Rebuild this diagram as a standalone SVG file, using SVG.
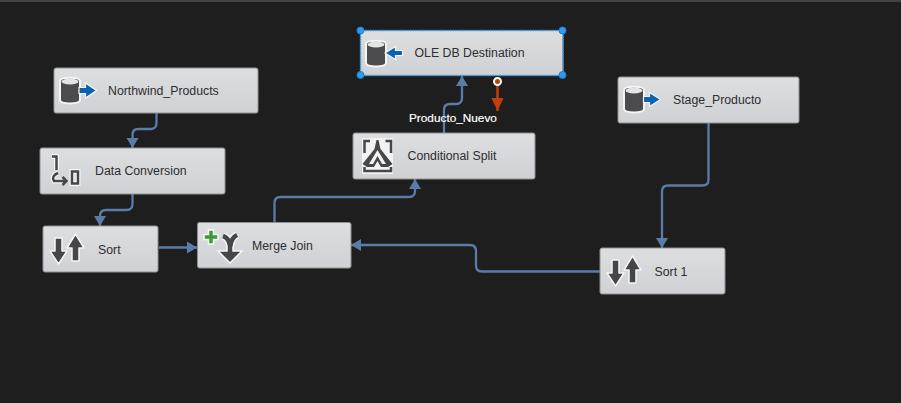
<svg xmlns="http://www.w3.org/2000/svg" width="901" height="403" viewBox="0 0 901 403">
<defs>
<linearGradient id="nodeFill" x1="0" y1="0" x2="0" y2="1"><stop offset="0" stop-color="#dddee0"/><stop offset="1" stop-color="#d0d1d4"/></linearGradient>
<marker id="arrow" markerUnits="userSpaceOnUse" markerWidth="13" markerHeight="13" refX="10" refY="6.500" orient="auto"><path d="M0 0.500L10 6.500L0 12.500Z" fill="#5b7ca8"/></marker>
<marker id="arrowRed" markerUnits="userSpaceOnUse" markerWidth="14" markerHeight="13" refX="13" refY="6.500" orient="auto"><path d="M0 0.500L13 6.500L0 12.500Z" fill="#c13f0b"/></marker>
<g id="dbBody"><path d="M-10 -9.500C-10 -14 10 -14 10 -9.500V9.500C10 14 -10 14 -10 9.500Z" fill="#4b4b4d" stroke="#f4f4f4" stroke-width="2"/><ellipse cx="0" cy="-9" rx="8.500" ry="3" fill="#e4e4e4"/></g>
<g id="sortIcon" fill="#464648" stroke="#f5f5f5" stroke-width="1.500" stroke-linejoin="round"><path d="M12 12H19V25H24L15.500 38L7 25H12Z"/><path d="M29 35H36V22H41L32.500 8L24 22H29Z"/></g>
</defs>
<style>
.node{fill:url(#nodeFill);stroke:#8f9092;stroke-width:1}
.lbl{font-family:"Liberation Sans",Arial,sans-serif;font-size:12.300px;fill:#2e2e30}
.wire{fill:none;stroke:#5b7ca8;stroke-width:2.300;marker-end:url(#arrow)}
.handle{fill:#2f9bf0;stroke:#1e7fd0;stroke-width:1}
.halo{fill:none;stroke:#f6f6f6;stroke-width:5}
.ink{fill:none;stroke:#47474a;stroke-width:2.500}
.blue{fill:#0b62b0;stroke:#f4f4f4;stroke-width:1.200}
</style>
<rect width="901" height="403" fill="#1e1e1e"/>
<rect width="901" height="2" fill="#3f4246"/>
<g id="connectors">
<path class="wire" d="M156.500 113V123Q156.500 129 150.500 129H138Q132.500 129 132.500 135V148"/>
<path class="wire" d="M132.500 194V204Q132.500 210 126.500 210H106Q100 210 100 216V226"/>
<path class="wire" d="M159 247.500H197"/>
<path class="wire" d="M274.500 222V203Q274.500 197 280.500 197H409Q415 197 415 191V179"/>
<path class="wire" d="M444 133V110Q444 104 450 104H456Q462 104 462 98V76"/>
<path class="wire" d="M708.500 123V179.500Q708.500 185.500 702.500 185.500H668Q662 185.500 662 191.500V248"/>
<path class="wire" d="M600 271.500H482Q476 271.500 476 265.500V251Q476 245 470 245H351"/>
<path d="M497.500 84V111" fill="none" stroke="#c13f0b" stroke-width="2.500" marker-end="url(#arrowRed)"/>
<circle cx="497.500" cy="81.500" r="3.500" fill="#c13f0b" stroke="#ffffff" stroke-width="2"/>
</g>
<g id="node-northwind">
<rect class="node" x="54" y="68" width="204" height="45" rx="2"/>
<use href="#dbBody" x="70" y="90.500"/>
<path class="blue" d="M79 87.500H85.500V83L96.500 90.500L85.500 98V93.500H79Z"/>
<text class="lbl" x="108" y="94.500">Northwind_Products</text>
</g>
<g id="node-data-conversion">
<rect class="node" x="40" y="148" width="185" height="46" rx="2"/>
<path class="halo" d="M52 156.500H56.500V170"/>
<path class="halo" d="M58 173Q51 176 54 181H66"/>
<rect class="halo" x="72" y="171.500" width="6" height="12" stroke-width="4.500"/>
<path class="ink" d="M52 156.500H56.500V170"/>
<path class="ink" d="M58 173Q51 176 54 181H66M62.500 177L66.500 181L62.500 185"/>
<rect class="ink" x="72" y="171.500" width="6" height="12"/>
<text class="lbl" x="95" y="175">Data Conversion</text>
</g>
<g id="node-sort">
<rect class="node" x="43" y="226" width="115" height="46" rx="2"/>
<use href="#sortIcon" x="43" y="226"/>
<text class="lbl" x="98" y="253.500">Sort</text>
</g>
<g id="node-merge-join">
<rect class="node" x="197.500" y="222.500" width="153.500" height="45.500" rx="2"/>
<path d="M208.500 230H213.500V234.500H218V239.500H213.500V244H208.500V239.500H204V234.500H208.500Z" fill="#3c9a35" stroke="#f7f7f7" stroke-width="1.500"/>
<path d="M223 236Q229 238 230 246V254M237 235Q231 238 230.500 246" fill="none" stroke="#f6f6f6" stroke-width="7.500"/>
<path d="M218 251H242L230 263Z" fill="#47474a" stroke="#f6f6f6" stroke-width="1.500"/>
<path d="M223 236Q229 238 230 246V254M237 235Q231 238 230.500 246" fill="none" stroke="#47474a" stroke-width="4.500"/>
<text class="lbl" x="252" y="250">Merge Join</text>
</g>
<g id="node-conditional-split">
<rect class="node" x="353" y="133" width="182" height="46" rx="2"/>
<rect x="362" y="138" width="31" height="36" fill="#f2f2f2" rx="1"/>
<path d="M370 141H364.500V153M385.500 141H391V153M364.500 167V171H391V167" fill="none" stroke="#47474a" stroke-width="2.500"/>
<path d="M376.500 140H378.500L380.500 149L392.500 164L388 167H381L377.500 161L374 167H367L362.500 164L374.500 149ZM377.500 150L369 164H373L377.500 156L382 164H386Z" fill="#47474a" fill-rule="evenodd"/>
<text class="lbl" x="407.500" y="160">Conditional Split</text>
</g>
<g id="node-ole-db">
<rect class="node" x="360.500" y="30.500" width="202.500" height="45" rx="2"/>
<rect x="360.500" y="30.500" width="202.500" height="45" rx="2" fill="none" stroke="#2f9bf0" stroke-width="1.500" stroke-dasharray="1.500 1"/>
<use href="#dbBody" x="376" y="53.500"/>
<path class="blue" d="M402.500 50.500H395.500V46.500L385 53L395.500 59.500V55.500H402.500Z"/>
<text class="lbl" x="414.500" y="57">OLE DB Destination</text>
<circle class="handle" cx="360.500" cy="30.500" r="3.500"/>
<circle class="handle" cx="562.500" cy="30.500" r="3.500"/>
<circle class="handle" cx="360.500" cy="75" r="3.500"/>
<circle class="handle" cx="562.500" cy="75" r="3.500"/>
</g>
<g id="node-stage-producto">
<rect class="node" x="618" y="77" width="181" height="46" rx="2"/>
<use href="#dbBody" x="634" y="99.500"/>
<path class="blue" d="M643.500 96.500H649.500V92.500L660.500 99.500L649.500 106.500V102.500H643.500Z"/>
<text class="lbl" x="673" y="104">Stage_Producto</text>
</g>
<g id="node-sort-1">
<rect class="node" x="600" y="248" width="125" height="46" rx="2"/>
<use href="#sortIcon" x="600" y="248"/>
<text class="lbl" x="654.500" y="275.500">Sort 1</text>
</g>
<text x="409" y="122" style="font-family:'Liberation Sans',Arial,sans-serif;font-size:11.800px;fill:#ffffff;stroke:#ffffff;stroke-width:.2">Producto_Nuevo</text>
</svg>
